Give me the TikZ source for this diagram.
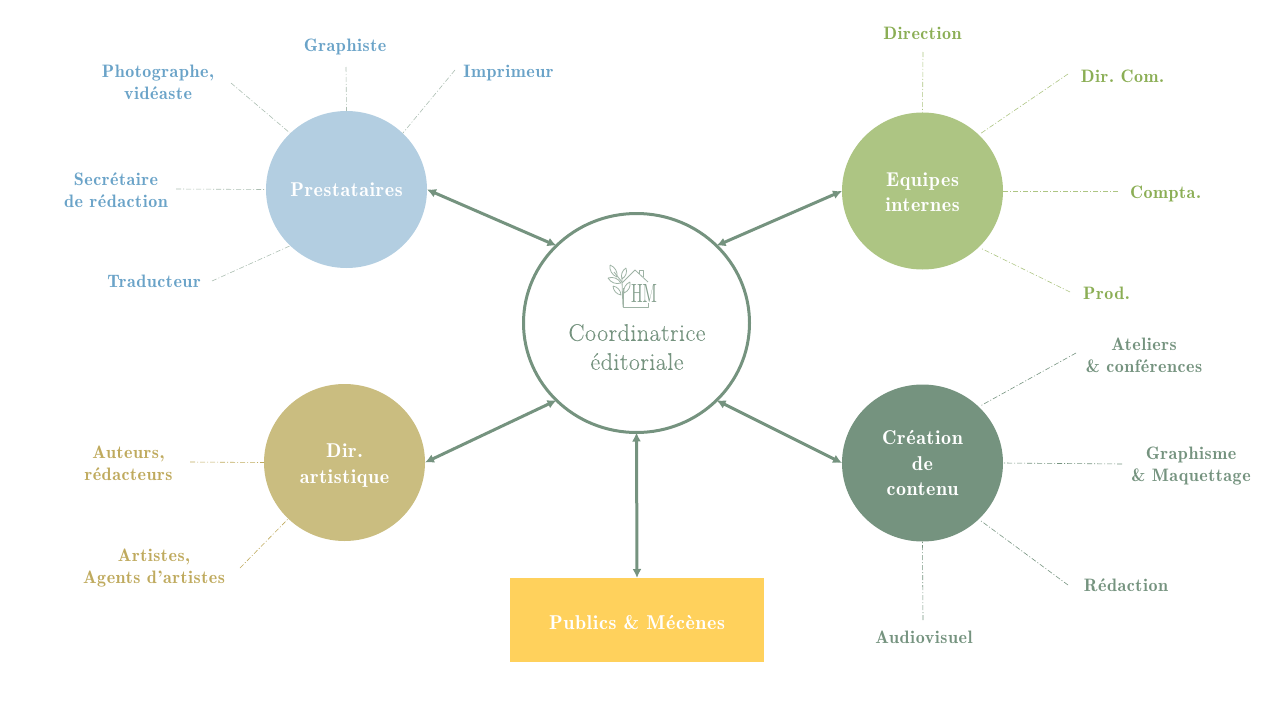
\documentclass[tikz,border=0pt]{standalone}
\usepackage{fontspec}
\setmainfont{Latin Modern Roman}
\newfontfamily\demifont[LetterSpace=3]{lmromandemi10-regular.otf}
\newfontfamily\centfont[LetterSpace=2,FakeBold=0.15]{Latin Modern Roman}
\usetikzlibrary{shapes.geometric,arrows.meta}
\definecolor{cblue}{HTML}{B3CEE1}
\definecolor{tblue}{HTML}{6AA3C8}
\definecolor{cgreen}{HTML}{ADC583}
\definecolor{tgreen}{HTML}{8BAE55}
\definecolor{ckhaki}{HTML}{CABD80}
\definecolor{tkhaki}{HTML}{BFAA5E}
\definecolor{cdark}{HTML}{75937F}
\definecolor{cyellow}{HTML}{FFD15C}
\tikzset{
  x=1pt,y=-1pt,
  hub/.style={ellipse,minimum width=161pt,minimum height=157pt,inner sep=0pt,outer sep=0pt,text=white,align=center,font=\fontsize{20}{25.5}\selectfont\demifont\frenchspacing},
  lab/.style={align=center,inner sep=0pt,font=\fontsize{18}{22}\selectfont\demifont\frenchspacing},
  link/.style={draw=cdark,line width=3pt,{Latex[length=9pt,width=9pt]}-{Latex[length=9pt,width=9pt]}},
  spoke/.style={line width=.6pt,dash pattern=on 5pt off 2pt on 1pt off 2pt},
  logo/.style={draw=cdark!70,line width=.8pt,line join=round},
  leaf/.style={logo,bend left=38}
}
\begin{document}
\begin{tikzpicture}
\useasboundingbox (0,0) rectangle (1280,720);
\node[ellipse,draw=cdark,line width=3pt,minimum width=226pt,minimum height=219pt,inner sep=0pt,outer sep=0pt] (cen) at (636.5,323) {};
\node[inner sep=0pt,align=center,text=cdark,font=\fontsize{24}{29}\selectfont\centfont] (centxt) at (637,347) {Coordinatrice\\éditoriale};
\node[hub,fill=cblue] (pre) at (346.5,189.5) {Prestataires};
\node[hub,fill=cgreen] (equ) at (922.5,191) {\rule{0pt}{16pt}Equipes\\internes};
\node[hub,fill=ckhaki] (art) at (344.5,462.5) {\rule{0pt}{20pt}Dir.\\artistique};
\node[hub,fill=cdark] (cre) at (922.5,463) {Création\\de\\contenu};
\node[fill=cyellow,minimum width=254pt,minimum height=84pt,inner sep=0pt,outer sep=0pt,text=white,font=\fontsize{20}{25}\selectfont\demifont] (pub) at (637,620) {\rule{0pt}{19pt}Publics \& Mécènes};
\draw[link] (pre.east) -- (cen.136);
\draw[link] (equ.west) -- (cen.44);
\draw[link] (art.east) -- (cen.224);
\draw[link] (cre.west) -- (cen.-44);
\draw[link] (cen.south) -- (pub.north);
% logo
\draw[logo] (622,283) -- (635,270) -- (648,282);
\draw[logo] (639,274) -- (639,270) -- (643,270) -- (643,277);
\draw[logo] (623,288) -- (623,307) -- (648,307) -- (648,303);
\draw[logo] (623,307) .. controls (622.5,295) and (622,285) .. (622,277);
\draw[logo] (622,282) -- (614,272);
\draw[leaf] (610,265) to (617,277) to (610,265);
\draw[leaf] (626,268) to (622,279) to (626,268);
\draw[leaf] (608,278) to (621,283) to (608,278);
\draw[leaf] (613,286) to (621,295) to (613,286);
\draw[leaf] (630,282) to (624,293) to (630,282);
\node[inner sep=0pt,text=cdark!90] (logotxt) at (644,293) {\resizebox{26pt}{18pt}{HM}};
% labels + spokes
\foreach \n/\x/\y/\t/\ex/\ey/\hub/\col/\lcol in {
 a/345/46.5/Graphiste/346/67/pre.north/tblue/{draw=cdark!60},
 b/508.5/73/Imprimeur/455/70/pre.45/tblue/{draw=cdark!60},
 c/158/82/{Photographe,\\vidéaste}/231/83/pre.135/tblue/{draw=cdark!60},
 d/116/190/{Secrétaire\\de rédaction}/176/189/pre.west/tblue/{draw=cdark!60},
 e/154/281/Traducteur/212/281/pre.225/tblue/{draw=cdark!60},
 f/922.5/33/Direction/923/52/equ.north/tgreen/{draw=cgreen},
 g/1122.5/76/Dir. Com./1068/74/equ.45/tgreen/{draw=cgreen,shorten >=3pt},
 h/1165.5/194/Compta./1118/191/equ.east/tgreen/{draw=cgreen},
 i/1106.5/293/Prod./1070/292/equ.-45/tgreen/{draw=cgreen,shorten >=3pt},
 j/1144/355/{Ateliers\\\& conférences}/1076/353/cre.45/cdark/{draw=cdark,shorten >=3pt},
 k/1191/466/{Graphisme\\\& Maquettage}/1122/464/cre.east/cdark/{draw=cdark},
 l/1126/585/Rédaction/1068/585/cre.-45/cdark/{draw=cdark,shorten >=3pt},
 m/924/637/Audiovisuel/923/620/cre.south/cdark/{draw=cdark},
 n/128.5/463/{Auteurs,\\rédacteurs}/190/462/art.west/tkhaki/{draw=tkhaki},
 o/154/568/{Artistes,\\Agents d’artistes}/240/568/art.225/tkhaki/{draw=tkhaki}}
{
 \node[lab,text=\col] (l\n) at (\x,\y) {\t};
 \coordinate (s\n) at (\ex,\ey);
 \tikzset{curspoke/.style/.expand once=\lcol}
 \draw[spoke,curspoke] (s\n) -- (\hub);
}
\end{tikzpicture}
\end{document}
